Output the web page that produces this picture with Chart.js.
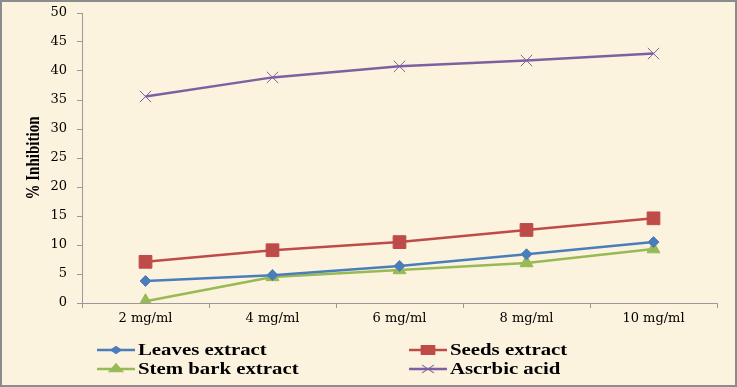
<!DOCTYPE html>
<html>
<head>
<meta charset="utf-8">
<script src="https://cdn.jsdelivr.net/npm/chart.js@4/dist/chart.umd.min.js"></script>
<style>
    html, body { margin: 0; padding: 0; background: #ffffff; }
    #frame {
        width: 733px;
        height: 383px;
        border: 2px solid #8c8c8c;
        background: #fcf3de;
    }
    canvas { display: block; }
</style>
</head>
<body>
<div id="frame">
    <canvas id="inhibition-chart" width="733" height="383"></canvas>
</div>
<script>
/* ---------- data ---------- */

const categories = ["2 mg/ml", "4 mg/ml", "6 mg/ml", "8 mg/ml", "10 mg/ml"];

const leavesExtract = [3.8, 4.8, 6.4, 8.4, 10.5];
const seedsExtract = [7.1, 9.1, 10.5, 12.6, 14.6];
const stemBarkExtract = [0.3, 4.5, 5.7, 6.9, 9.3];
const ascorbicAcid = [35.6, 38.9, 40.8, 41.8, 43.0];

const seriesNames = ["Leaves extract", "Seeds extract", "Stem bark extract", "Ascrbic acid"];

const yTitle = "% Inhibition";

/* ---------- helpers ---------- */

const serif = "'Liberation Serif', 'Times New Roman', serif";
const wideSerif = "'DejaVu Serif', serif";
const axisGray = "#9a9a9a";
const stretch = 1.3;   // the original picture is widened, text included

function series(label, data, color, pointStyle, radius, legendRadius) {
    return {
        label: label,
        data: data,
        borderColor: color,
        backgroundColor: color,
        borderWidth: 2.5,
        tension: 0,
        pointStyle: pointStyle,
        pointRadius: radius,
        pointHoverRadius: radius,
        pointBorderWidth: 1,
        pointBorderColor: color,
        pointBackgroundColor: color,
        legendRadius: legendRadius
    };
}

// legend in two fixed columns + the rotated y title, drawn by hand
const legendPlugin = {
    id: "twoColumnLegend",
    afterDraw(chart) {
        const ctx = chart.ctx;
        const slots = [
            { x: 95, y: 348 },
            { x: 407, y: 348 },
            { x: 95, y: 367 },
            { x: 407, y: 367 }
        ];

        chart.data.datasets.forEach((ds, i) => {
            const s = slots[i];
            ctx.save();
            ctx.strokeStyle = ds.borderColor;
            ctx.fillStyle = ds.backgroundColor;
            ctx.lineWidth = 2.5;
            ctx.beginPath();
            ctx.moveTo(s.x, s.y);
            ctx.lineTo(s.x + 38, s.y);
            ctx.stroke();

            ctx.save();
            ctx.translate(s.x + 19, s.y);
            ctx.scale(1.35, 0.9);
            ctx.lineWidth = 1;
            Chart.helpers.drawPoint(ctx, {
                pointStyle: ds.pointStyle,
                radius: ds.legendRadius,
                rotation: 0,
                borderWidth: 1
            }, 0, 0);
            ctx.restore();

            ctx.translate(s.x + 41, s.y + 1);
            ctx.scale(stretch, 1);
            ctx.fillStyle = "#000000";
            ctx.font = "bold 16px " + serif;
            ctx.textAlign = "left";
            ctx.textBaseline = "middle";
            ctx.fillText(ds.label, 0, 0);
            ctx.restore();
        });

        const area = chart.chartArea;
        ctx.save();
        ctx.translate(32, (area.top + area.bottom) / 2);
        ctx.scale(stretch, 1);
        ctx.rotate(-Math.PI / 2);
        ctx.font = "bold 15px " + serif;
        ctx.textAlign = "center";
        ctx.textBaseline = "middle";
        ctx.fillStyle = "#000000";
        ctx.fillText(yTitle, 0, 0);
        ctx.restore();
    }
};

/* ---------- chart ---------- */

new Chart(document.getElementById("inhibition-chart"), {
    type: "line",
    data: {
        labels: categories,
        datasets: [
            series(seriesNames[0], leavesExtract, "#4a7ebb", "rectRot", 5.5, 4),
            series(seriesNames[1], seedsExtract, "#be4b48", "rect", 9, 7),
            series(seriesNames[2], stemBarkExtract, "#98b954", "triangle", 7.5, 6),
            series(seriesNames[3], ascorbicAcid, "#7d60a0", "crossRot", 8, 6.3)
        ]
    },
    options: {
        responsive: false,
        animation: false,
        layout: {
            padding: { top: 11, right: 18, bottom: 0, left: 0 }
        },
        plugins: {
            legend: { display: false },
            tooltip: { enabled: false }
        },
        scales: {
            x: {
                offset: true,
                afterFit(scale) { scale.height = 82; },
                border: { color: axisGray, width: 1 },
                grid: {
                    offset: true,
                    drawOnChartArea: false,
                    drawTicks: true,
                    tickLength: 5,
                    color: axisGray
                },
                ticks: {
                    color: "#000000",
                    padding: 3,
                    maxRotation: 0,
                    font: { family: wideSerif, size: 13 }
                }
            },
            y: {
                min: 0,
                max: 50,
                afterFit(scale) {
                    scale.width = 80;
                    scale.paddingTop = 0;
                    scale.paddingBottom = 0;
                },
                border: { color: axisGray, width: 1 },
                grid: {
                    drawOnChartArea: false,
                    drawTicks: true,
                    tickLength: 5,
                    color: axisGray
                },
                ticks: {
                    stepSize: 5,
                    color: "#000000",
                    padding: 10,
                    font: { family: wideSerif, size: 13 }
                }
            }
        }
    },
    plugins: [legendPlugin]
});
</script>
</body>
</html>
